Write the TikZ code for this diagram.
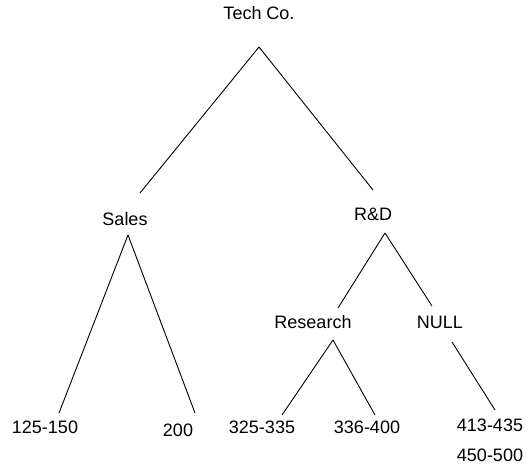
\documentclass[tikz,border=0pt]{standalone}
\usepackage{fontspec}
\setmainfont{Liberation Sans}
\begin{document}
\begin{tikzpicture}[x=1pt,y=-1pt,line width=0.9pt,
            org node/.style={inner sep=0pt,font=\fontsize{18}{30}\selectfont,align=center}]

        \useasboundingbox (0,0) rectangle (529,464);

        % Define vertices
        \node[org node] (tech) at (259,13) {Tech Co.};
        \node[org node] (sales) at (125,219) {Sales};
        \node[org node] (rd) at (373,214) {R\&D};
        \node[org node] (research) at (313,322) {Research};
        \node[org node] (null) at (440,322) {NULL};
        \node[org node] (s1) at (45,427) {125-150};
        \node[org node] (s2) at (178,430) {200};
        \node[org node] (r1) at (262,427) {325-335};
        \node[org node] (r2) at (367,427) {336-400};
        \node[org node] (n1) at (490,440) {413-435\\450-500};

        % Draw edges
        \draw ([shift={(0,34)}]tech.center) -- ([shift={(15,-26)}]sales.center);
        \draw ([shift={(0,34)}]tech.center) -- ([shift={(0,-24)}]rd.center);
        \draw ([shift={(3,16)}]sales.center) -- ([shift={(14,-14)}]s1.center);
        \draw ([shift={(3,16)}]sales.center) -- ([shift={(17,-17)}]s2.center);
        \draw ([shift={(12,19)}]rd.center) -- ([shift={(25,-14)}]research.center);
        \draw ([shift={(12,19)}]rd.center) -- ([shift={(-8,-16)}]null.center);
        \draw ([shift={(20,18)}]research.center) -- ([shift={(20,-12)}]r1.center);
        \draw ([shift={(20,18)}]research.center) -- ([shift={(8,-12)}]r2.center);
        \draw ([shift={(12,20)}]null.center) -- ([shift={(5,-30)}]n1.center);

\end{tikzpicture}
\end{document}
